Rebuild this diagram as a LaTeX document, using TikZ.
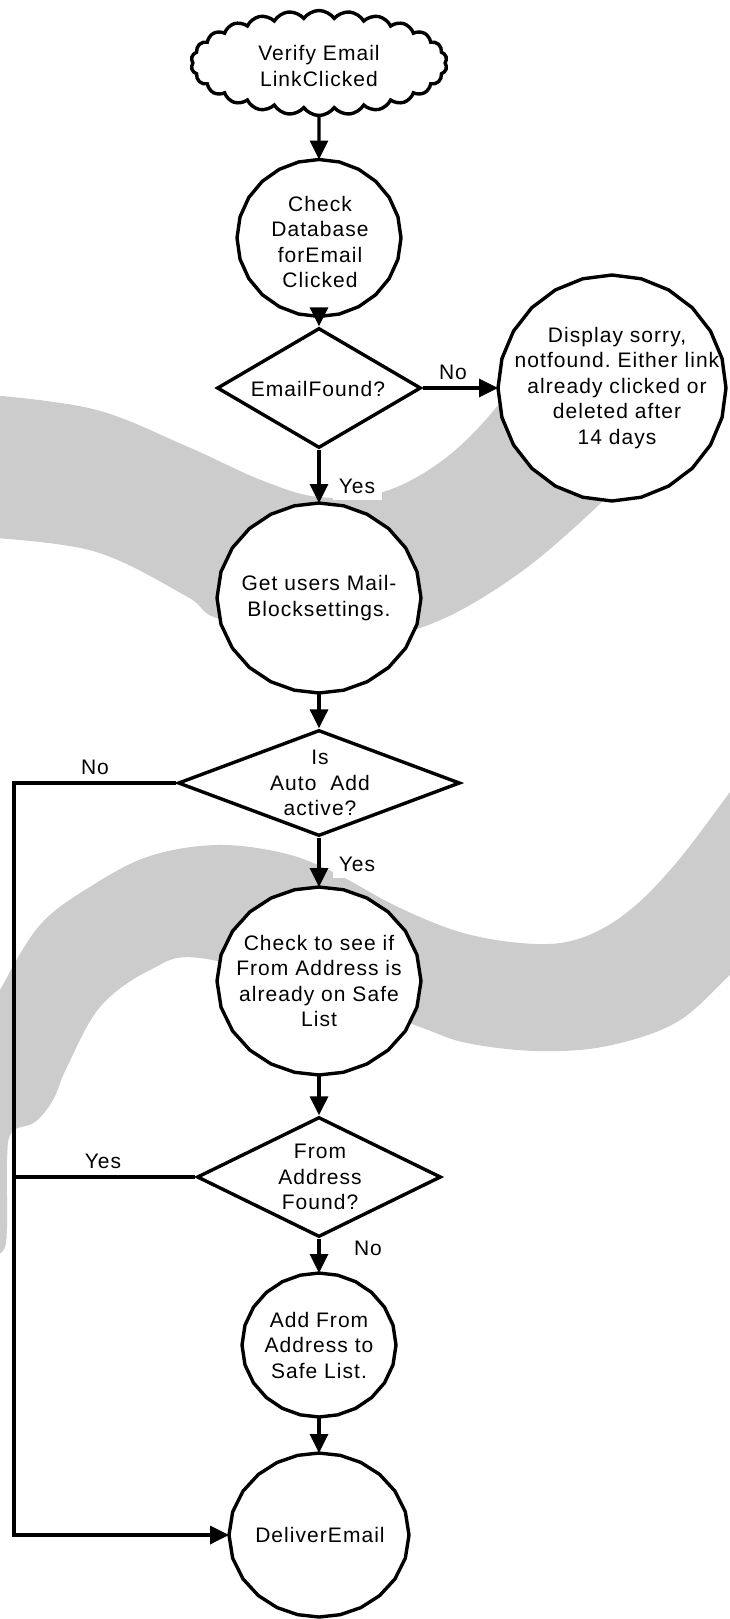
\documentclass[tikz,border=0pt]{standalone}
\usepackage{fontspec}
\newfontfamily\lblfont[LetterSpace=5]{Liberation Sans}
\usetikzlibrary{shapes.geometric,shapes.symbols,arrows.meta}
\definecolor{bandgrey}{RGB}{204,204,204}
\frenchspacing
\begin{document}
\begin{tikzpicture}[x=1pt,y=-1pt,
  lab/.style={font=\lblfont\fontsize{21}{25.5}\selectfont, align=center, inner sep=0pt},
  ell/.style={ellipse, draw=none, fill=white, inner sep=0pt, outer sep=0pt},
  dia/.style={diamond, draw=black, line width=3.4pt, fill=white, inner sep=0pt},
  arr/.style={line width=3.4pt, line join=miter, -{Triangle[length=19pt,width=18pt]}},
  ln/.style={line width=3.4pt},
  facet/.style={line width=3.4pt, line join=round},
  yesbox/.style={lab, fill=white, minimum width=49pt, minimum height=27pt}
]
\useasboundingbox (0,0) rectangle (730,1619);
\fill[white] (0,0) rectangle (730,1619);

% background swooshes
\fill[bandgrey] plot[smooth, tension=0.6] coordinates {(-20,394) (93,409) (186,446) (261,480) (319,497) (383,492) (443,460) (495,409) (535,350)}
  -- plot[smooth, tension=0.6] coordinates {(670,430) (603,501) (514,577) (420,628) (320,642) (219,619) (186,596) (93,551) (-20,537)} -- cycle;
\fill[bandgrey] plot[smooth, tension=0.6] coordinates {(-20,1030) (0,990) (40,925) (93,885) (150,856) (217,845) (283,853) (333,872) (400,908) (467,934) (537,944) (584,937) (630,910) (677,862) (730,792) (750,765)}
  -- plot[smooth, tension=0.6] coordinates {(750,960) (730,975) (677,1022) (607,1046) (537,1051) (467,1043) (420,1027) (320,990) (200,958) (150,970) (100,1007) (67,1067) (53,1100) (35,1122) (12,1132) (7,1160) (7,1228) (2,1252) (-20,1258)} -- cycle;

% start cloud
\node[cloud, cloud puffs=26, cloud puff arc=110, draw, line width=3.4pt, fill=white,
      minimum width=256pt, minimum height=105pt, inner sep=0pt] (start) at (319,63) {};
\node[lab] (startt) at (319,66) {Verify Email\\LinkClicked};

% process ellipses (drawn as faceted polygons)
\node[ell, minimum width=164pt, minimum height=157pt] (chk) at (319,238) {};
\node[ell, minimum width=228pt, minimum height=226pt] (disp) at (612,388) {};
\node[ell, minimum width=204pt, minimum height=190pt] (gus) at (319,598) {};
\node[ell, minimum width=204pt, minimum height=188pt] (cts) at (319,981) {};
\node[ell, minimum width=154pt, minimum height=144pt] (afl) at (319,1345) {};
\node[ell, minimum width=180pt, minimum height=164pt] (del) at (319,1535) {};
\foreach \n in {chk,disp,gus,cts,afl,del}{
  \draw[facet] (\n.0) \foreach \a in {15,30,...,345}{ -- (\n.\a)} -- cycle;
}

% decisions
\node[dia, minimum width=204pt, minimum height=120pt] (ef) at (319,388) {};
\node[dia, minimum width=282pt, minimum height=106pt] (ia) at (319,783) {};
\node[dia, minimum width=244pt, minimum height=120pt] (fa) at (319,1177) {};

% texts
\node[lab] (chkt) at (320,242) {Check\\Database\\forEmail\\Clicked};
\node[lab] (eft) at (318,389) {EmailFound?};
\node[lab] (dispt) at (617,388) {Display sorry,\\notfound. Either link\\already clicked or\\deleted after\\14 days};
\node[lab] (gust) at (319,598) {Get users Mail-\\Blocksettings.};
\node[lab] (iat) at (320,783) {Is\\Auto\ \ Add\\active?};
\node[lab] (ctst) at (319,981) {Check to see if\\From Address is\\already on Safe\\List};
\node[lab] (fat) at (320,1177) {From\\Address\\Found?};
\node[lab] (aflt) at (319,1345) {Add From\\Address to\\Safe List.};
\node[lab] (delt) at (320,1535) {DeliverEmail};

% corner points of the left return line
\coordinate (c1) at (14,783);
\coordinate (c2) at (14,1177);
\coordinate (c3) at (14,1535);

% connectors
\draw[arr] (start.south) -- (chk.north);
\draw[arr] (chk.south) -- (ef.north);
\draw[arr] (ef.east) -- (disp.west);
\draw[arr] (ef.south) -- (gus.north);
\draw[arr] (gus.south) -- (ia.north);
\draw[arr] (ia.south) -- (cts.north);
\draw[arr] (cts.south) -- (fa.north);
\draw[arr] (fa.south) -- (afl.north);
\draw[arr] (afl.south) -- (del.north);
\draw[arr] (ia.west) -- (c1) -- (c3) -- (del.west);
\draw[ln] (fa.west) -- (c2);

% branch labels
\node[lab] (no1) at (453,372) {No};
\node[yesbox] (yes1) at (357,486) {Yes};
\node[lab] (no2) at (95,767) {No};
\node[yesbox] (yes2) at (357,864) {Yes};
\node[lab] (yes3) at (103,1161) {Yes};
\node[lab] (no3) at (368,1248) {No};
\end{tikzpicture}
\end{document}
